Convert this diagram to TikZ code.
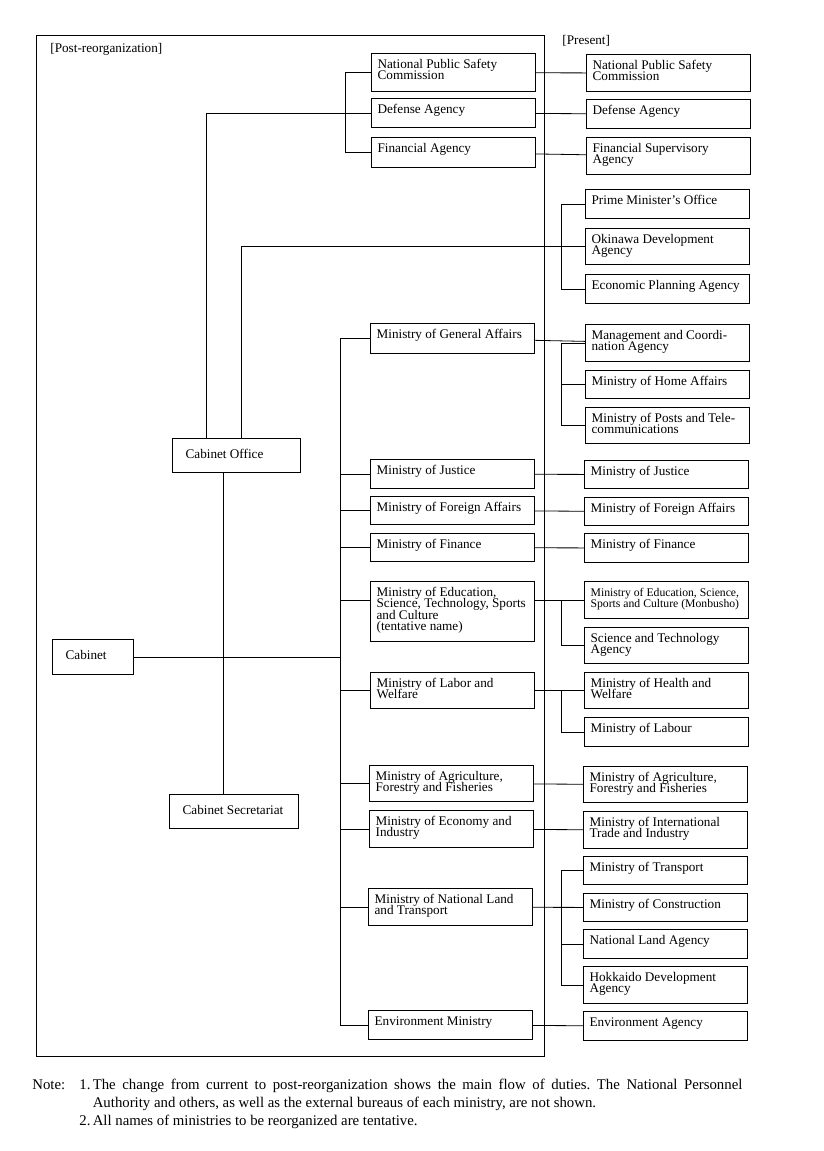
\documentclass[tikz,border=0pt]{standalone}
\usepackage{fontspec}
\setmainfont{Liberation Serif}

\begin{document}
\begin{tikzpicture}[x=1pt, y=-1pt, line width=0.8pt,
        main/.style = {draw, rectangle, anchor=north west, line width=1.2pt, inner xsep=6pt, inner ysep=0pt, text width=152pt, align=flush left, text height=15pt, text depth=#1pt-15pt, font=\fontsize{13.2}{11.2}\selectfont, execute at begin node={\baselineskip=11.2pt\lineskiplimit=-20pt\relax}},
        main/.default = 29,
        lead/.style = {draw, rectangle, anchor=north west, line width=1.2pt, inner xsep=13pt, inner ysep=0pt, text width=#1pt-26pt, align=flush left, text height=20pt, text depth=14pt, font=\fontsize{13.2}{11.2}\selectfont},
        title/.style = {anchor=base west, inner sep=0pt, font=\fontsize{13.2}{15}\selectfont},
        note/.style = {anchor=base west, inner sep=0pt, font=\fontsize{14.8}{18.2}\selectfont\frenchspacing}]
        \useasboundingbox (0,0) rectangle (823,1151);
        \draw (36,35) rectangle (544,1056);

        \node[title] (40) at (50,52) {[Post-reorganization]};
        \node[title] (41) at (562,44) {[Present]};

        \node[lead=81, text depth=15pt] (1) at (52,639) {Cabinet};
        \node[lead=128] (2) at (172,438) {Cabinet Office};
        \node[lead=129] (3) at (169,794) {Cabinet Secretariat};

        \node[main=38] (4) at (371,53) {National Public Safety\\Commission};
        \node[main] (5) at (371,98) {Defense Agency};
        \node[main=30] (6) at (371,137) {Financial Agency};
        \node[main=30] (7) at (370,323) {Ministry of General Affairs};
        \node[main] (8) at (370,459) {Ministry of Justice};
        \node[main=28] (9) at (370,496) {Ministry of Foreign Affairs};
        \node[main=28] (10) at (370,533) {Ministry of Finance};
        \node[main=60] (11) at (370,581) {Ministry of Education,\\Science, Technology, Sports\\and Culture\\(tentative name)};
        \node[main=36] (12) at (370,672) {Ministry of Labor and\\Welfare};
        \node[main=36] (13) at (369,765) {Ministry of Agriculture,\\Forestry and Fisheries};
        \node[main=37] (14) at (369,810) {Ministry of Economy and\\Industry};
        \node[main=37] (15) at (368,888) {Ministry of National Land\\and Transport};
        \node[main] (16) at (368,1010) {Environment Ministry};

        \node[main=37] (17) at (586,54) {National Public Safety\\Commission};
        \node[main] (18) at (586,99) {Defense Agency};
        \node[main=37] (19) at (586,137) {Financial Supervisory\\Agency};
        \node[main] (20) at (585,189) {Prime Minister’s Office};
        \node[main=36] (21) at (585,228) {Okinawa Development\\Agency};
        \node[main] (22) at (585,274) {Economic Planning Agency};
        \node[main=37] (23) at (585,324) {Management and Coordi-\\nation Agency};
        \node[main=28] (24) at (585,370) {Ministry of Home Affairs};
        \node[main=36] (25) at (585,407) {Ministry of Posts and Tele-\\communications};
        \node[main=28] (26) at (584,460) {Ministry of Justice};
        \node[main=28] (27) at (584,497) {Ministry of Foreign Affairs};
        \node[main] (28) at (584,533) {Ministry of Finance};
        \node[main=37, font=\fontsize{11.7}{11.2}\selectfont] (29) at (584,581) {Ministry of Education, Science,\\Sports and Culture (Monbusho)};
        \node[main=36] (30) at (584,627) {Science and Technology\\Agency};
        \node[main=36] (31) at (584,672) {Ministry of Health and\\Welfare};
        \node[main] (32) at (584,717) {Ministry of Labour};
        \node[main=36] (33) at (583,766) {Ministry of Agriculture,\\Forestry and Fisheries};
        \node[main=37] (34) at (583,811) {Ministry of International\\Trade and Industry};
        \node[main=28] (35) at (583,856) {Ministry of Transport};
        \node[main=28] (36) at (583,893) {Ministry of Construction};
        \node[main] (37) at (583,929) {National Land Agency};
        \node[main=37] (38) at (583,966) {Hokkaido Development\\Agency};
        \node[main] (39) at (583,1011) {Environment Agency};

        \node[note] (42) at (32,1089) {Note:};
        \node[note, text width=665pt, align=flush left] (43) at (79,1089) {\makebox[13.4pt][l]{1.}\makebox[649.6pt][s]{The change from current to post-reorganization shows the main flow of duties. The National Personnel}\\\hspace*{13.4pt}Authority and others, as well as the external bureaus of each ministry, are not shown.\\\makebox[13.4pt][l]{2.}All names of ministries to be reorganized are tentative.};

        \coordinate (a) at (345,0);
        \coordinate (b) at (561,0);
        \coordinate (m) at (340,0);

        \draw (4) -| (a |- 6) -- (6);
        \draw ([xshift=-30pt]2.north) |- (5);
        \draw ([xshift=5pt]2.north) |- (21);
        \draw ([xshift=-13pt]2.south) -- ([xshift=-13pt]2.south |- 3.north);
        \draw (1) -- (m |- 1);

        \draw (4) -- (17);
        \draw (5) -- (18);
        \draw (6) -- (19);
        \draw (20) -| (b |- 22) -- (22);

        \draw (7) -| (m |- 16) -- (16);
        \draw (m |- 8) -- (8);
        \draw (m |- 9) -- (9);
        \draw (m |- 10) -- (10);
        \draw (m |- 29) -- (11.west |- 29);
        \draw (m |- 12) -- (12);
        \draw (m |- 13) -- (13);
        \draw (m |- 14) -- (14);
        \draw (m |- 15) -- (15);

        \draw (7) -- (23);
        \draw (23) -| (b |- 25) -- (25);
        \draw (b |- 24) -- (24);

        \draw (8) -- (26);
        \draw (9) -- (27);
        \draw (10) -- (28);

        \draw (11.east |- 29) -- (29);
        \draw (29) -| (b |- 30) -- (30);

        \draw (12) -- (31);
        \draw (31) -| (b |- 32) -- (32);

        \draw (13) -- (33);
        \draw (14) -- (34);

        \draw (15) -- (36);
        \draw (35) -| (b |- 38) -- (38);
        \draw (b |- 37) -- (37);

        \draw (16) -- (39);
    \end{tikzpicture}
\end{document}
